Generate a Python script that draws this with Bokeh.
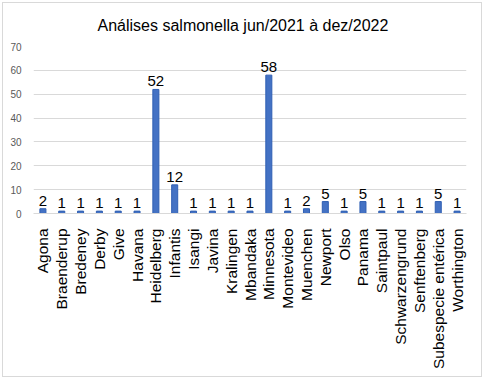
from bokeh.plotting import figure
from bokeh.models import ColumnDataSource, FactorRange
from bokeh.embed import file_html
from bokeh.resources import INLINE
from bokeh.core.properties import value
import math

categories = ["Agona", "Braenderup", "Bredeney", "Derby", "Give", "Havana",
              "Heidelberg", "Infantis", "Isangi", "Javina", "Kralingen", "Mbandaka",
              "Minnesota", "Montevideo", "Muenchen", "Newport", "Olso", "Panama",
              "Saintpaul", "Schwarzengrund", "Senftenberg", "Subespecie entérica",
              "Worthington"]
counts = [2, 1, 1, 1, 1, 1, 52, 12, 1, 1, 1, 1, 58, 1, 2, 5, 1, 5, 1, 1, 1, 5, 1]
y_ticks = [0, 10, 20, 30, 40, 50, 60, 70]

FONT = "Liberation Sans"

src = ColumnDataSource(dict(cat=categories, val=counts, lab=[str(v) for v in counts]))

p = figure(frame_width=433, frame_height=167, x_range=FactorRange(*categories, range_padding=0),
           y_range=(0, 70), output_backend="svg", toolbar_location=None,
           title="Análises salmonella jun/2021 à dez/2022",
           min_border_left=33, min_border_right=10, min_border_bottom=159, min_border_top=46)

p.title.align = "left"
p.title.offset = 64
p.title.standoff = 26
p.title.text_font = FONT
p.title.text_font_size = "16px"
p.title.text_font_style = "normal"
p.title.text_color = "#000000"

p.vbar(x="cat", top="val", width=0.32, source=src, fill_color="#4472C4",
       line_color="#2f5fb3", line_width=1)
p.text(x="cat", y="val", text="lab", source=src, text_align="center",
       text_baseline="bottom", y_offset=-3, text_font=value(FONT),
       text_font_size="15px", text_color="#000000")

p.outline_line_color = None
p.xgrid.grid_line_color = None
p.ygrid.grid_line_color = "#d9d9d9"
p.yaxis.ticker = y_ticks
p.yaxis.axis_line_color = None
p.yaxis.major_tick_line_color = None
p.yaxis.major_tick_out = 0
p.yaxis.major_tick_in = 0
p.yaxis.minor_tick_line_color = None
p.yaxis.major_label_text_font = FONT
p.yaxis.major_label_text_font_size = "10px"
p.yaxis.major_label_text_color = "#595959"
p.yaxis.major_label_standoff = 12

p.xaxis.axis_line_color = "#d9d9d9"
p.xaxis.major_tick_line_color = None
p.xaxis.minor_tick_line_color = None
p.xaxis.major_label_orientation = math.pi / 2
p.xaxis.major_label_text_font = FONT
p.xaxis.major_label_text_font_size = "15.5px"
p.xaxis.major_label_text_color = "#000000"
p.xaxis.major_label_standoff = 9

html = file_html(p, INLINE)
frame_div = ('<div style="position:fixed;left:2px;top:2px;width:478px;height:373px;'
             'border:1px solid #d9d9d9;pointer-events:none"></div>')
html = html.replace("</body>", frame_div + "</body>")
open("out.html", "w").write(html)
